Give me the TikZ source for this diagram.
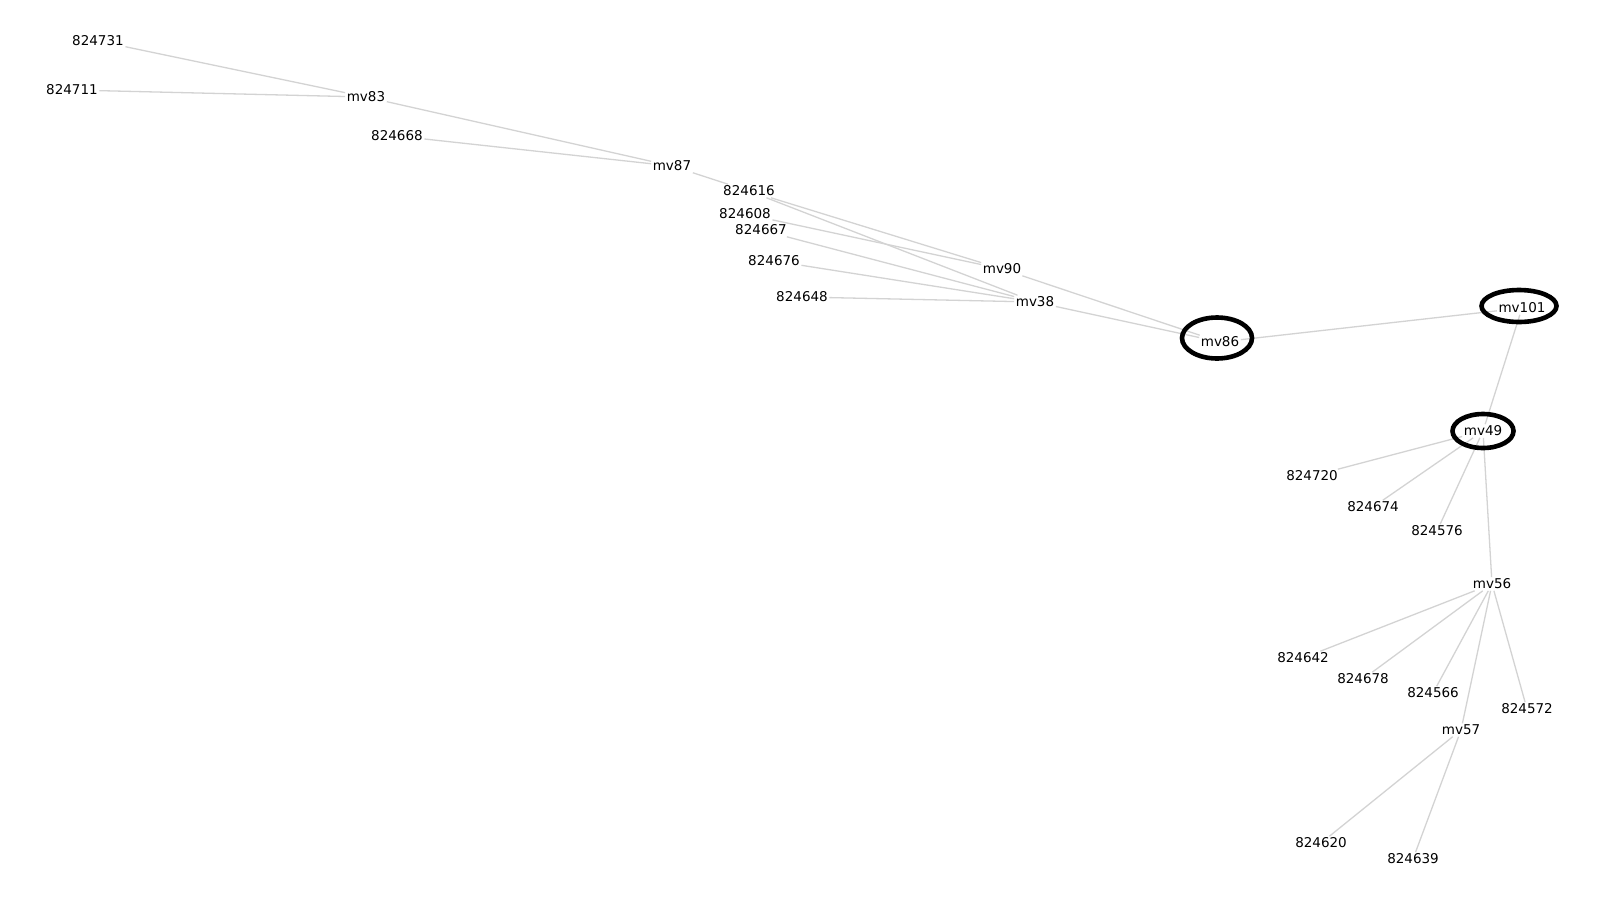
\documentclass[tikz,border=0pt]{standalone}
\usepackage{fontspec}
\setmainfont{DejaVu Sans}
\definecolor{edgegray}{RGB}{211,211,211}
\begin{document}
\begin{tikzpicture}[x=1pt,y=-1pt,
  lbl/.style={inner sep=1.5pt,font=\fontsize{13.5}{16}\selectfont,text=black},
  edge/.style={draw=edgegray,line width=1.3pt},
  ringline/.style={draw=black,line width=4.6pt}]
\useasboundingbox (0,0) rectangle (1600,900);
% labels
\node[lbl] (a824731) at (98,41) {824731};
\node[lbl] (a824711) at (72,90) {824711};
\node[lbl] (mv83) at (366,97) {mv83};
\node[lbl] (a824668) at (397,136) {824668};
\node[lbl] (mv87) at (672,166) {mv87};
\node[lbl] (a824616) at (749,191) {824616};
\node[lbl] (a824608) at (745,214) {824608};
\node[lbl] (a824667) at (761,230) {824667};
\node[lbl] (a824676) at (774,261) {824676};
\node[lbl] (a824648) at (802,297) {824648};
\node[lbl] (mv90) at (1002,269) {mv90};
\node[lbl] (mv38) at (1035,302) {mv38};
\node[lbl] (mv86) at (1220,342) {mv86};
\node[lbl] (mv101) at (1522,308) {mv101};
\node[lbl] (mv49) at (1483,431) {mv49};
\node[lbl] (a824720) at (1312,476) {824720};
\node[lbl] (a824674) at (1373,507) {824674};
\node[lbl] (a824576) at (1437,531) {824576};
\node[lbl] (mv56) at (1492,584) {mv56};
\node[lbl] (a824642) at (1303,658) {824642};
\node[lbl] (a824678) at (1363,679) {824678};
\node[lbl] (a824566) at (1433,693) {824566};
\node[lbl] (a824572) at (1527,709) {824572};
\node[lbl] (mv57) at (1461,730) {mv57};
\node[lbl] (a824620) at (1321,843) {824620};
\node[lbl] (a824639) at (1413,859) {824639};
% edges
\path[edge] (a824731) -- (mv83);
\path[edge] (a824711) -- (mv83);
\path[edge] (mv83) -- (mv87);
\path[edge] (a824668) -- (mv87);
\path[edge] (mv87) -- (a824616);
\path[edge] (a824616) -- (mv90);
\path[edge] (a824616) -- (mv38);
\path[edge] (a824608) -- (mv90);
\path[edge] (a824667) -- (mv38);
\path[edge] (a824676) -- (mv38);
\path[edge] (a824648) -- (mv38);
\path[edge] (mv90) -- (mv86);
\path[edge] (mv38) -- (mv86);
\path[edge] (mv86) -- (mv101);
\path[edge] (mv101) -- (mv49);
\path[edge] (mv49) -- (a824720);
\path[edge] (mv49) -- (a824674);
\path[edge] (mv49) -- (a824576);
\path[edge] (mv49) -- (mv56);
\path[edge] (mv56) -- (a824642);
\path[edge] (mv56) -- (a824678);
\path[edge] (mv56) -- (a824566);
\path[edge] (mv56) -- (a824572);
\path[edge] (mv56) -- (mv57);
\path[edge] (mv57) -- (a824620);
\path[edge] (mv57) -- (a824639);
% highlight rings
\path[ringline] (1217,338) ellipse [x radius=35, y radius=20.5];
\path[ringline] (1519,306) ellipse [x radius=37.5, y radius=16];
\path[ringline] (1483,431) ellipse [x radius=30.5, y radius=17];
\end{tikzpicture}
\end{document}
